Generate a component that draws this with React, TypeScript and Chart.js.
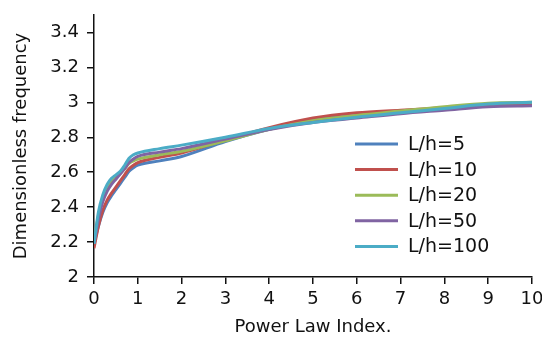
import React, { useEffect, useRef } from "react";
import { Chart, registerables } from "chart.js";

Chart.register(...registerables);

const indexValues = [0, 0.1, 0.2, 0.3, 0.4, 0.5, 0.6, 0.7, 0.8, 0.9, 1, 1.5, 2, 3, 4, 5, 6, 7, 8, 9, 10];
const seriesLabels = ["L/h=5", "L/h=10", "L/h=20", "L/h=50", "L/h=100"];
const lh5 = [2.19, 2.29, 2.37, 2.425, 2.465, 2.5, 2.535, 2.57, 2.605, 2.625, 2.64, 2.665, 2.69, 2.775, 2.845, 2.9, 2.925, 2.945, 2.965, 2.98, 2.985];
const lh10 = [2.165, 2.29, 2.38, 2.44, 2.48, 2.515, 2.55, 2.585, 2.62, 2.64, 2.655, 2.685, 2.71, 2.785, 2.855, 2.91, 2.94, 2.955, 2.97, 2.985, 2.99];
const lh20 = [2.2, 2.35, 2.45, 2.51, 2.545, 2.57, 2.595, 2.62, 2.65, 2.665, 2.675, 2.7, 2.72, 2.78, 2.845, 2.895, 2.925, 2.95, 2.975, 2.995, 3.0];
const lh50 = [2.19, 2.33, 2.43, 2.49, 2.53, 2.56, 2.59, 2.62, 2.655, 2.675, 2.69, 2.715, 2.735, 2.79, 2.845, 2.885, 2.91, 2.935, 2.955, 2.975, 2.98];
const lh100 = [2.19, 2.37, 2.47, 2.53, 2.565, 2.585, 2.605, 2.64, 2.68, 2.7, 2.71, 2.735, 2.755, 2.8, 2.85, 2.885, 2.915, 2.94, 2.965, 2.99, 3.0];
const seriesValues = [lh5, lh10, lh20, lh50, lh100];
const seriesColors = ["#4F81BD", "#C0504D", "#9BBB59", "#8064A2", "#4BACC6"];
const yTickValues = [2, 2.2, 2.4, 2.6, 2.8, 3, 3.2, 3.4];
const xTitle = "Power Law Index.";
const yTitle = "Dimensionless frequency";

const FONT = "'DejaVu Sans', sans-serif";

const innerLegend = {
  id: "innerLegend",
  afterDraw(chart: any) {
    const ctx = chart.ctx;
    ctx.save();
    ctx.font = `19px ${FONT}`;
    ctx.textBaseline = "middle";
    ctx.textAlign = "left";
    chart.data.datasets.forEach((ds: any, i: number) => {
      const y = 144 + i * 25.6;
      ctx.strokeStyle = ds.borderColor;
      ctx.lineWidth = 3;
      ctx.beginPath();
      ctx.moveTo(355, y);
      ctx.lineTo(398, y);
      ctx.stroke();
      ctx.fillStyle = "#111";
      ctx.fillText(ds.label, 408, y + 1);
    });
    ctx.restore();
  },
};

export default function App() {
  const ref = useRef<HTMLCanvasElement>(null);
  useEffect(() => {
    if (!ref.current) return;
    const chart = new Chart(ref.current, {
      type: "line",
      data: {
        datasets: seriesLabels.map((label, i) => ({
          label,
          data: indexValues.map((x, j) => ({ x, y: seriesValues[i][j] })),
          borderColor: seriesColors[i],
          backgroundColor: seriesColors[i],
          borderWidth: 3,
          pointRadius: 0,
          fill: false,
          cubicInterpolationMode: "monotone" as const,
          order: seriesLabels.length - 1 - i,
        })),
      },
      options: {
        animation: false,
        responsive: false,
        maintainAspectRatio: false,
        layout: { padding: { top: 15, right: 10, left: 0, bottom: 0 } },
        plugins: { legend: { display: false }, tooltip: { enabled: false } },
        scales: {
          x: {
            type: "linear",
            min: 0,
            max: 10,
            ticks: { stepSize: 1, color: "#111", font: { family: FONT, size: 18 }, padding: 5, maxRotation: 0 },
            grid: { drawOnChartArea: false, drawTicks: true, tickLength: 7, color: "#111", lineWidth: 1.5 },
            border: { display: true, color: "#111", width: 1.5 },
            title: { display: true, text: xTitle, color: "#111", font: { family: FONT, size: 18 }, padding: { top: 8, bottom: 2 } },
            afterFit: (s: any) => { s.height = 63; s.paddingLeft = 0; s.paddingRight = 0; },
          },
          y: {
            type: "linear",
            min: 2,
            max: 3.5,
            ticks: {
              color: "#111",
              font: { family: FONT, size: 18 },
              padding: 8,
              callback: (v: any) => String(Number(Number(v).toFixed(2))),
            },
            afterBuildTicks: (s: any) => { s.ticks = yTickValues.map((value) => ({ value })); },
            grid: { drawOnChartArea: false, drawTicks: true, tickLength: 7, color: "#111", lineWidth: 1.5 },
            border: { display: true, color: "#111", width: 1.5 },
            title: { display: true, text: yTitle, color: "#111", font: { family: FONT, size: 18 }, padding: { top: 11, bottom: 4 } },
            afterFit: (s: any) => { s.width = 94; s.paddingTop = 0; s.paddingBottom = 0; },
          },
        },
      },
      plugins: [innerLegend],
    });
    return () => chart.destroy();
  }, []);
  return (
    <div style={{ position: "fixed", left: 0, top: 0, width: 542, height: 340, background: "#fff" }}>
      <canvas ref={ref} width={542} height={340} style={{ width: 542, height: 340 }} />
    </div>
  );
}
